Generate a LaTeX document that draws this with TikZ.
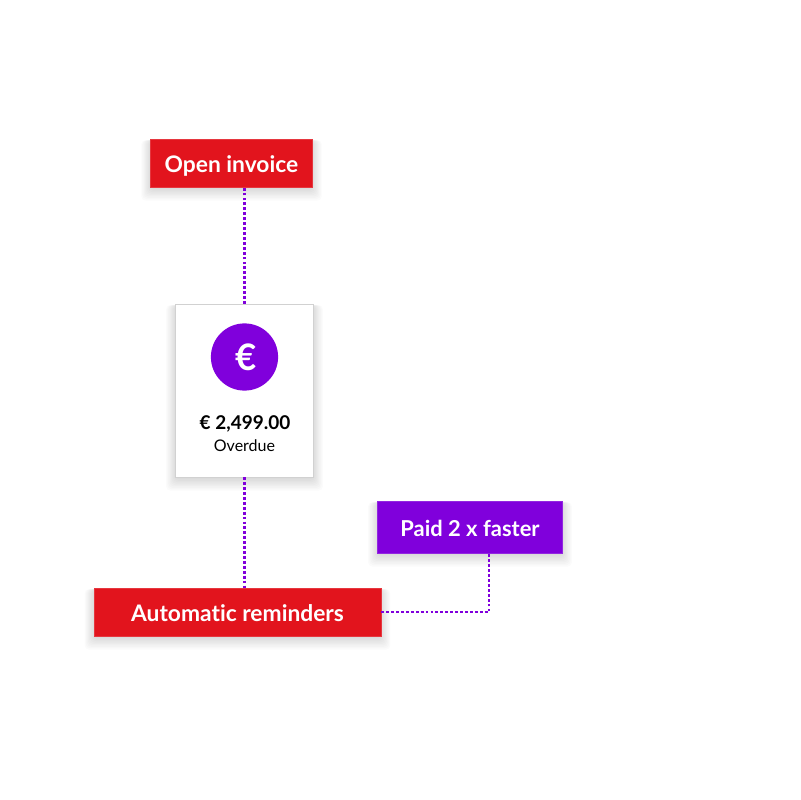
\documentclass[tikz,border=0pt]{standalone}
\usepackage{fontspec}
\setmainfont[Ligatures=NoCommon]{Lato}
\usetikzlibrary{backgrounds}
\definecolor{invred}{HTML}{E2141D}
\definecolor{invpurple}{HTML}{8000DC}
\tikzset{
    tagbox/.style={rectangle, inner sep=0pt, draw=#1!85!white, line width=0.3pt, fill=#1, text=white, text height=14pt, text depth=0pt, font=\fontsize{16.2}{19}\selectfont\bfseries},
    cardbox/.style={rectangle, inner sep=0pt, draw=black!18, line width=0.5pt, fill=white},
    softlayer/.style={black, opacity=0.017, rounded corners=3pt},
    dotline/.style={invpurple, line width=1.6pt, dash pattern=on 2pt off 1.5pt}
}
\newcommand{\softshadow}[1]{
    \foreach \g in {0,...,8} {
        \fill[softlayer] ([xshift=-\g*0.8pt, yshift=-1pt]#1.north west) rectangle ([xshift=\g*0.8pt, yshift=-\g*1pt-1.5pt]#1.south east);
    }
}

\begin{document}
\begin{tikzpicture}[x=0.025cm, y=-0.025cm]
    \useasboundingbox (0,0) rectangle (800,800);
    % boxes
    \node[tagbox=invred, minimum width=4.05cm, minimum height=1.2cm] (open) at (231.5,163) {Open invoice};
    \node[cardbox, minimum width=3.45cm, minimum height=4.32cm] (card) at (244.5,390.5) {};
    \node[tagbox=invred, minimum width=7.18cm, minimum height=1.2cm] (auto) at (237.5,612) {Automatic reminders};
    \node[tagbox=invpurple, minimum width=4.63cm, minimum height=1.3cm, font=\fontsize{15.6}{19}\selectfont\bfseries] (paid) at (470,527) {Paid 2 x faster};
    % card content
    \node[circle, fill=invpurple, minimum size=1.68cm, inner sep=0pt] (coin) at (244.5,357) {};
    \node[text=white, font=\fontsize{26}{30}\selectfont\bfseries] (euro) at ([xshift=1pt]coin.center) {€};
    \node[font=\fontsize{13.5}{16}\selectfont\bfseries] (amount) at (245,423.5) {€ 2,499.00};
    \node[font=\fontsize{11.4}{13}\selectfont] (status) at (244.5,445.5) {Overdue};
    % connectors
    \coordinate (bend) at (489,612);
    \draw[dotline] (card.north) -- (card.north |- open.south);
    \draw[dotline] (card.south) -- (card.south |- auto.north);
    \draw[dotline] (auto.east) -- (bend) -- (bend |- paid.south);
    % shadows
    \begin{pgfonlayer}{background}
        \fill[white] (0,0) rectangle (800,800);
        \softshadow{open}
        \softshadow{card}
        \softshadow{auto}
        \softshadow{paid}
    \end{pgfonlayer}
\end{tikzpicture}
\end{document}
